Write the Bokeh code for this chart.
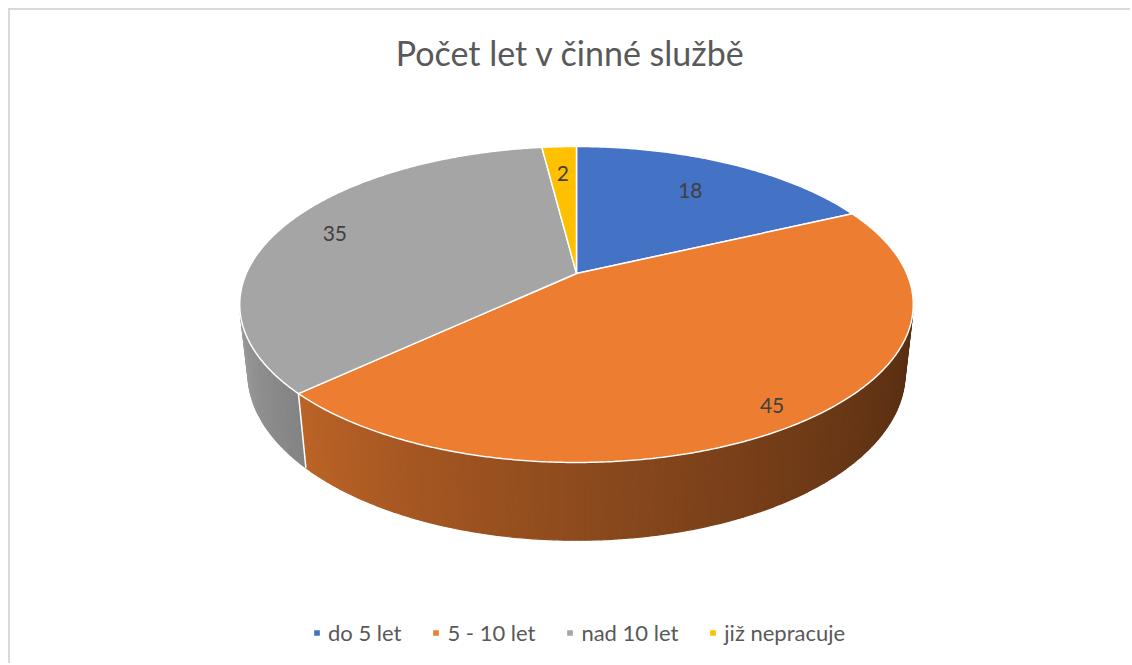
import numpy as np
from bokeh.plotting import figure
from bokeh.models import Range1d, Legend, ColumnDataSource
from bokeh.core.properties import value
from bokeh.embed import file_html
from bokeh.resources import INLINE

# ---------------- data ----------------
categories = ["do 5 let", "5 - 10 let", "nad 10 let", "již nepracuje"]
values = [18, 45, 35, 2]
colors = ["#4472C4", "#ED7D31", "#A5A5A5", "#FFC000"]
title_text = "Počet let v činné službě"

# ---------------- layout / 3D projection parameters ----------------
FW, FH = 1120, 583          # frame size
TOP = 70                    # space for the title
CX, CY = 566, 193           # pie apex in frame pixels
SCALE = 1496.0
D, C_, S_ = 4.53, 0.888, 0.460   # camera distance, cos/sin of elevation
H = 0.235                   # pie thickness
label_radius = [0.72, 0.9, 0.82, 0.76]


def proj(x, y, z):
    d = D - y * S_ - z * C_
    sx = x / d
    sy = (y * C_ - z * S_) / d
    return CX + SCALE * sx, CY - SCALE * sy


def ang_pt(a_deg, r=1.0, y=0.0):
    a = np.radians(a_deg)
    return proj(r * np.sin(a), y, -r * np.cos(a))


def shade(hex_color, f):
    h = hex_color.lstrip("#")
    rgb = [int(h[i:i + 2], 16) for i in (0, 2, 4)]
    return "#%02x%02x%02x" % tuple(max(0, min(255, int(round(v * f)))) for v in rgb)


total = float(sum(values))
bounds = np.concatenate([[0.0], np.cumsum(values)]) / total * 360.0

# visible range of the side wall
z_min = 1.0 / (D * C_)
a_vis0 = 180.0 - np.degrees(np.arccos(z_min))
a_vis1 = 180.0 + np.degrees(np.arccos(z_min))

# ---------------- side wall strips ----------------
side_xs, side_ys, side_col = [], [], []
edge_x0, edge_y0, edge_x1, edge_y1 = [], [], [], []
for i in range(len(values)):
    a0, a1 = max(bounds[i], a_vis0), min(bounds[i + 1], a_vis1)
    if a1 <= a0:
        continue
    n = max(2, int((a1 - a0) / 0.75) + 1)
    grid = np.linspace(a0, a1, n)
    for j in range(n - 1):
        g0, g1 = grid[j], grid[j + 1]
        p0 = ang_pt(g0); p1 = ang_pt(g1)
        q1 = ang_pt(g1, y=-H); q0 = ang_pt(g0, y=-H)
        side_xs.append([p0[0], p1[0], q1[0], q0[0]])
        side_ys.append([p0[1], p1[1], q1[1], q0[1]])
        t = (0.5 * (g0 + g1) - a_vis0) / (a_vis1 - a_vis0)
        f = 0.37 + 0.56 * t ** 1.3
        side_col.append(shade(colors[i], f))
# slice boundaries visible on the side wall
for b in bounds[1:-1]:
    if a_vis0 < b < a_vis1:
        p = ang_pt(b); q = ang_pt(b, y=-H)
        edge_x0.append(p[0]); edge_y0.append(p[1]); edge_x1.append(q[0]); edge_y1.append(q[1])

# ---------------- top face wedges ----------------
top_xs, top_ys = [], []
for i in range(len(values)):
    a0, a1 = bounds[i], bounds[i + 1]
    n = max(3, int((a1 - a0) / 0.5) + 1)
    arc = [ang_pt(a) for a in np.linspace(a0, a1, n)]
    apex = proj(0.0, 0.0, 0.0)
    top_xs.append([apex[0]] + [p[0] for p in arc])
    top_ys.append([apex[1]] + [p[1] for p in arc])

# ---------------- labels ----------------
lab_x, lab_y, lab_t = [], [], []
for i in range(len(values)):
    mid = 0.5 * (bounds[i] + bounds[i + 1])
    px, py = ang_pt(mid, r=label_radius[i])
    lab_x.append(px); lab_y.append(py); lab_t.append(str(values[i]))

# ---------------- figure ----------------
p = figure(frame_width=FW, frame_height=FH, output_backend="svg", toolbar_location=None,
           x_range=Range1d(0, FW), y_range=Range1d(FH, 0),
           min_border_left=0, min_border_right=0, min_border_bottom=0, min_border_top=TOP)
p.axis.visible = False
p.grid.visible = False
p.outline_line_color = None
p.background_fill_color = "white"
p.border_fill_color = "white"
p.styles = {"border-top": "2px solid #d9d9d9", "border-left": "2px solid #d9d9d9",
            "margin-top": "8px", "margin-left": "8px"}

p.title.text = title_text
p.title.align = "center"
p.title.text_font = "Lato"
p.title.text_font_size = "34px"
p.title.text_font_style = "normal"
p.title.text_color = "#595959"
p.title.standoff = 16

p.patches(side_xs, side_ys, fill_color=side_col, line_color=side_col, line_width=1.2)
p.segment(edge_x0, edge_y0, edge_x1, edge_y1, line_color="white", line_width=1.5)

top_src = ColumnDataSource(dict(xs=top_xs, ys=top_ys, color=colors, cat=categories))
top_r = p.patches("xs", "ys", source=top_src, fill_color="color", line_color="white", line_width=1.5)

p.text(lab_x, lab_y, text=lab_t, text_align="center", text_baseline="middle",
       text_font=value("Lato"), text_font_size="21px", text_color="#404040")

legend = Legend(items=[(categories[i], [top_r]) for i in range(len(categories))],
                orientation="horizontal", location=(302, 17),
                glyph_width=9, glyph_height=9, label_standoff=7, spacing=30,
                label_text_font="Lato", label_text_font_size="22px", label_text_color="#595959",
                border_line_color=None, background_fill_alpha=0, padding=5, margin=0)
for i, item in enumerate(legend.items):
    item.index = i
p.add_layout(legend, "center")

open("out.html", "w").write(file_html(p, INLINE))
